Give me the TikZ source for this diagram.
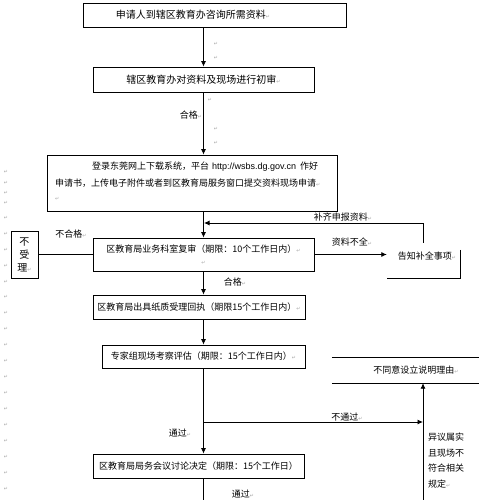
\documentclass[tikz,border=0pt]{standalone}
\usepackage{fontspec}
\setmainfont{Noto Sans CJK SC}
\newfontfamily\dejavu{DejaVu Sans}
\newfontfamily\lat{Liberation Sans}
\usetikzlibrary{arrows.meta}
\newcommand\rt{{\dejavu\fontsize{5}{5}\selectfont\color{gray!70}↵}}
\begin{document}
\begin{tikzpicture}[x=1pt,y=-1pt,
 box/.style={draw,line width=0.8pt,inner sep=0pt,font=\fontsize{9}{12}\selectfont},
 arr/.style={line width=0.8pt,-{Latex[length=5.5pt,width=5pt]}},
 ln/.style={line width=0.8pt},
 lab/.style={font=\fontsize{9}{12}\selectfont,inner sep=0pt},
 mk/.style={inner sep=0pt,font=\dejavu\fontsize{5}{5}\selectfont,text=gray!70}]
\useasboundingbox (0,0) rectangle (500,500);
% boxes
\node[box,minimum width=263,minimum height=24] (b1) at (214.5,15) {};
\node[lab,font=\fontsize{10}{12}\selectfont] (t1) at (193,15) {申请人到辖区教育办咨询所需资料\rt};
\node[box,minimum width=221,minimum height=25,font=\fontsize{10}{12}\selectfont] (b2) at (203.5,79.5) {辖区教育办对资料及现场进行初审\rt};
\node[box,minimum width=290,minimum height=56] (b3) at (192,183) {};
\node[lab,anchor=west] (t3a) at (92,167) {登录东莞网上下载系统，平台\hspace{3pt}{\lat\fontsize{9}{10}\selectfont http://wsbs.dg.gov.cn}\hspace{4pt}作好};
\node[lab,anchor=west] (t3b) at (55,183) {申请书，上传电子附件或者到区教育局服务窗口提交资料现场申请\rt};
\node[mk,anchor=west] (t3c) at (55,199) {↵};
\node[box,minimum width=221,minimum height=33,align=center] (b4) at (203.5,254.5) {区教育局业务科室复审（期限：10个工作日内）\rt\\\rt};
\node[box,minimum width=212,minimum height=24] (b5) at (199,307) {区教育局出具纸质受理回执（期限15个工作日内）\rt};
\node[box,minimum width=203,minimum height=23] (b6) at (203.5,356.5) {专家组现场考察评估（期限：15个工作日内）\rt};
\node[box,minimum width=211,minimum height=24] (b7) at (198.5,466) {区教育局局务会议讨论决定（期限：15个工作日）};
\node[box,minimum width=27,minimum height=47,align=center,font=\fontsize{10}{13}\selectfont] (bsl) at (24.5,254.5) {不\\受\\理\rt};
% partial boxes
\node[lab,minimum width=73,minimum height=35] (gz) at (423.5,260.5) {};
\node[lab] (tgz) at (427,256) {告知补全事项\rt};
\draw[ln] ([yshift=-7pt]gz.north east) -- (gz.south east) -- (gz.south west);
\node[lab,minimum width=147,minimum height=25] (bty) at (405.5,370.5) {};
\node[lab] (tbty) at (416,370) {不同意设立说明理由\rt};
\draw[ln] (bty.north west) -- (bty.north east);
\draw[ln] (bty.south west) -- (bty.south east);
\node[lab,align=left,anchor=north west,font=\fontsize{9}{15.5}\selectfont] (yy) at (428,433) {异议属实\\且现场不\\符合相关\\规定\rt};
% connectors
\draw[arr] (b2.north |- b1.south) -- (b2.north);
\draw[arr] (b2.south) -- (b2.south |- b3.north);
\draw[arr] (b4.north |- b3.south) -- (b4.north);
\draw[arr] (b4.south) -- (b4.south |- b5.north);
\draw[arr] (b6.north |- b5.south) -- (b6.north);
\draw[arr] (b6.south) -- (b6.south |- b7.north);
\coordinate (bend) at (203,500);
\draw[ln] (b7.south -| bend) -- (bend);
\coordinate (fb) at (204,223);
\draw[arr] (gz.north) |- (fb);
\draw[arr] (b4.east) -- (b4.east -| gz.west);
\draw[ln] (bsl.east) -- (b4.west);
\coordinate (vb) at (423,500);
\draw[arr] (vb) -- (vb |- bty.south);
\coordinate (br) at (203,422);
\draw[arr] (br) -- (br -| vb);
% labels
\node[lab] (l1) at (191,115) {合格\rt};
\node[lab] (l2) at (71,234) {不合格\rt};
\node[lab] (l3) at (343,217) {补齐申报资料\rt};
\node[lab] (l4) at (352,242) {资料不全\rt};
\node[lab] (l5) at (235,282) {合格\rt};
\node[lab] (l6) at (347,417) {不通过\rt};
\node[lab] (l7) at (180,433) {通过\rt};
\node[lab] (l8) at (243,494) {通过\rt};
% paragraph marks
\foreach \yy [count=\i] in {44,58,129,143} \node[mk] (ma\i) at (216,\yy) {↵};
\node[mk] (mb1) at (210,100) {↵};
\foreach \yy [count=\i] in {172,183,193,203,218,234,250,266,282,297,313,329,345,361,377,393,409,425,441,457,473,489} \node[mk] (ml\i) at (6,\yy) {↵};
\end{tikzpicture}
\end{document}
